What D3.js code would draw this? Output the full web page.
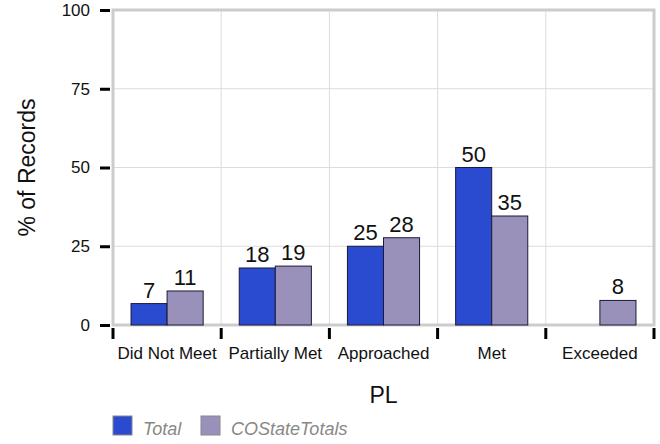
<!DOCTYPE html>
<html>
<head>
<meta charset="utf-8">
<script src="https://cdn.jsdelivr.net/npm/d3@7"></script>
<style>
  body { margin: 0; background: #fff; }
  text { font-family: "Liberation Sans", Arial, sans-serif; }
</style>
</head>
<body>
<div id="chart"></div>
<script>
var categories = ['Did Not Meet', 'Partially Met', 'Approached', 'Met', 'Exceeded'];
var seriesNames = ['Total', 'COStateTotals'];
var totalValues = [6.8, 18.1, 25, 50, null];
var stateValues = [10.8, 18.7, 27.7, 34.6, 7.8];
var yTicks = [0, 25, 50, 75, 100];
var colors = ['#2a4bd0', '#9a91ba'];

var width = 660, height = 444;
var plotLeft = 113, plotRight = 654, plotTop = 10, plotBottom = 325;

var svg = d3.select('#chart').append('svg')
  .attr('width', width)
  .attr('height', height);

var x = d3.scaleBand().domain(categories).range([plotLeft, plotRight]);
var xs = d3.scaleBand().domain(seriesNames).range([0, x.bandwidth()]).paddingOuter(0.5).paddingInner(0);
var y = d3.scaleLinear().domain([0, 100]).range([plotBottom, plotTop]);

// grid
svg.append('g').selectAll('line')
  .data(yTicks.slice(1, -1))
  .enter().append('line')
  .attr('x1', plotLeft).attr('x2', plotRight)
  .attr('y1', function(d) { return y(d); })
  .attr('y2', function(d) { return y(d); })
  .style('stroke', '#dcdcdc');

svg.append('g').selectAll('line')
  .data(categories.slice(1))
  .enter().append('line')
  .attr('x1', function(d) { return x(d); })
  .attr('x2', function(d) { return x(d); })
  .attr('y1', plotTop).attr('y2', plotBottom)
  .style('stroke', '#dcdcdc');

// frame
svg.append('rect')
  .attr('x', plotLeft).attr('y', plotTop)
  .attr('width', plotRight - plotLeft).attr('height', plotBottom - plotTop)
  .style('fill', 'none')
  .style('stroke', '#cccccc')
  .style('stroke-width', 3);

// bars
var rows = [];
categories.forEach(function(c, i) {
  rows.push({ cat: c, s: 'Total', v: totalValues[i], color: colors[0] });
  rows.push({ cat: c, s: 'COStateTotals', v: stateValues[i], color: colors[1] });
});
rows = rows.filter(function(d) { return d.v != null; });

svg.append('g').selectAll('rect')
  .data(rows)
  .enter().append('rect')
  .attr('x', function(d) { return x(d.cat) + xs(d.s); })
  .attr('y', function(d) { return y(d.v); })
  .attr('width', xs.bandwidth())
  .attr('height', function(d) { return y(0) - y(d.v); })
  .style('fill', function(d) { return d.color; })
  .style('stroke', '#1a1a3a')
  .style('stroke-width', 1);

svg.append('g').selectAll('text')
  .data(rows)
  .enter().append('text')
  .attr('x', function(d) { return x(d.cat) + xs(d.s) + xs.bandwidth() / 2; })
  .attr('y', function(d) { return y(d.v) - 6; })
  .attr('text-anchor', 'middle')
  .style('font-size', '22px')
  .style('fill', '#111')
  .text(function(d) { return Math.round(d.v); });

// y axis
var yAxis = svg.append('g')
  .attr('transform', 'translate(' + (plotLeft - 3) + ',0)')
  .call(d3.axisLeft(y).tickValues(yTicks).tickSize(10).tickPadding(10));
yAxis.select('.domain').remove();
yAxis.selectAll('.tick line').style('stroke', '#000').style('stroke-width', 3);
yAxis.selectAll('.tick text').style('font-size', '17px').style('fill', '#111')
  .style('font-family', '"Liberation Sans", Arial, sans-serif');

// x axis
var xAxis = svg.append('g')
  .attr('transform', 'translate(0,' + (plotBottom + 2) + ')')
  .call(d3.axisBottom(x).tickSize(0).tickPadding(20));
xAxis.select('.domain').remove();
xAxis.selectAll('.tick text').style('font-size', '17px').style('fill', '#111')
  .style('font-family', '"Liberation Sans", Arial, sans-serif');

svg.append('g').selectAll('line')
  .data(categories.concat(['end']))
  .enter().append('line')
  .attr('x1', function(d, i) { return i < categories.length ? x(d) : plotRight; })
  .attr('x2', function(d, i) { return i < categories.length ? x(d) : plotRight; })
  .attr('y1', plotBottom + 3).attr('y2', plotBottom + 14)
  .style('stroke', '#000')
  .style('stroke-width', 3);

// axis titles
svg.append('text')
  .attr('x', (plotLeft + plotRight) / 2)
  .attr('y', 403)
  .attr('text-anchor', 'middle')
  .style('font-size', '23px')
  .style('fill', '#111')
  .text('PL');

svg.append('text')
  .attr('transform', 'translate(35,' + ((plotTop + plotBottom) / 2) + ') rotate(-90)')
  .attr('text-anchor', 'middle')
  .style('font-size', '23px')
  .style('fill', '#111')
  .text('% of Records');

// legend
var legend = svg.append('g').selectAll('g')
  .data(seriesNames)
  .enter().append('g')
  .attr('transform', function(d, i) { return 'translate(' + [113, 201][i] + ',416)'; });

legend.append('rect')
  .attr('width', 19).attr('height', 19)
  .style('fill', function(d, i) { return colors[i]; })
  .style('stroke', '#888');

legend.append('text')
  .attr('x', 30).attr('y', 19)
  .style('font-size', '18px')
  .style('font-style', 'italic')
  .style('fill', '#888')
  .text(function(d) { return d; });
</script>
</body>
</html>
